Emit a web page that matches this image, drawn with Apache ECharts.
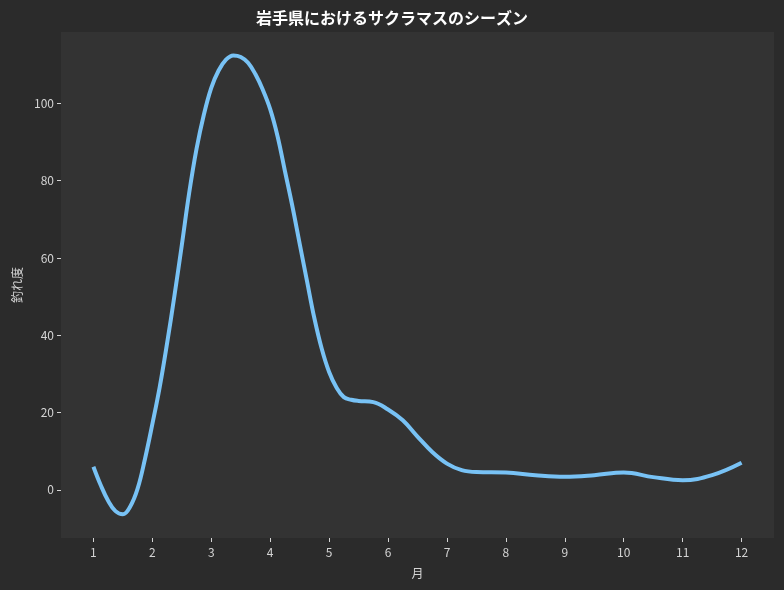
<!DOCTYPE html>
<html>
<head>
<meta charset="utf-8">
<script src="https://cdn.jsdelivr.net/npm/echarts@6/dist/echarts.min.js"></script>
<style>
  html, body { margin: 0; padding: 0; background: #2b2b2b; }
  #chart { width: 784px; height: 590px; }
</style>
</head>
<body>
<div id="chart"></div>
<script>
// 曲線を図から読み取った値（月, 釣れ度）
const months = [1.0, 1.125, 1.25, 1.375, 1.5, 1.625, 1.75, 1.875, 2.0, 2.125, 2.25, 2.375, 2.5, 2.625, 2.75, 2.875, 3.0, 3.125, 3.25, 3.375, 3.5, 3.625, 3.75, 3.875, 4.0, 4.125, 4.25, 4.375, 4.5, 4.625, 4.75, 4.875, 5.0, 5.125, 5.25, 5.375, 5.5, 5.75, 6.0, 6.25, 6.5, 6.75, 7.0, 7.25, 7.5, 8.0, 8.5, 9.0, 9.5, 10.0, 10.5, 11.0, 11.5, 12.0];
const scores = [6, 1.2, -2.8, -5.5, -6.3, -4.3, 0.3, 8.0, 17, 26.6, 37.9, 50.2, 63.3, 76.8, 88.2, 97.1, 104, 108.5, 111.3, 112.4, 112.0, 110.5, 107.5, 103.5, 98.5, 91.5, 82.5, 73.5, 63.7, 54, 44.4, 36.5, 30.5, 26.5, 24, 23.3, 23, 22.7, 20.8, 18, 13.8, 9.8, 6.8, 5.1, 4.6, 4.5, 3.8, 3.4, 3.8, 4.5, 3.3, 2.5, 3.8, 7];
const monthTicks = [1, 2, 3, 4, 5, 6, 7, 8, 9, 10, 11, 12];
const scoreTicks = [0, 20, 40, 60, 80, 100];

const font = "'Noto Sans CJK JP', sans-serif";
const textColor = '#d4d4d4';

const chart = echarts.init(document.getElementById('chart'));
chart.setOption({
  backgroundColor: '#2b2b2b',
  animation: false,
  title: {
    text: '岩手県におけるサクラマスのシーズン',
    left: 'center', top: 5,
    textStyle: { color: '#ffffff', fontSize: 16, fontWeight: 'bold', fontFamily: font }
  },
  grid: { left: 61, right: 10, top: 32, bottom: 52, show: true, backgroundColor: '#333333', borderWidth: 0 },
  xAxis: {
    type: 'value', min: 0.45, max: 12.55,
    name: '月', nameLocation: 'middle', nameGap: 29,
    nameTextStyle: { color: textColor, fontSize: 12, fontFamily: font },
    axisLine: { show: false, onZero: false },
    splitLine: { show: false },
    axisTick: { show: true, length: 4, lineStyle: { color: textColor }, customValues: monthTicks },
    axisLabel: { color: textColor, fontSize: 12, fontFamily: font, margin: 8, customValues: monthTicks }
  },
  yAxis: {
    type: 'value', min: -12.45, max: 118.45,
    name: '釣れ度', nameLocation: 'middle', nameGap: 37,
    nameTextStyle: { color: textColor, fontSize: 12, fontFamily: font },
    axisLine: { show: false, onZero: false },
    splitLine: { show: false },
    axisTick: { show: true, length: 4, lineStyle: { color: textColor }, customValues: scoreTicks },
    axisLabel: { color: textColor, fontSize: 12, fontFamily: font, margin: 7, customValues: scoreTicks }
  },
  series: [{
    type: 'line',
    data: months.map((m, i) => [m, scores[i]]),
    smooth: 0.4,
    showSymbol: false,
    lineStyle: { color: '#78c2f5', width: 4 }
  }]
});
</script>
</body>
</html>
